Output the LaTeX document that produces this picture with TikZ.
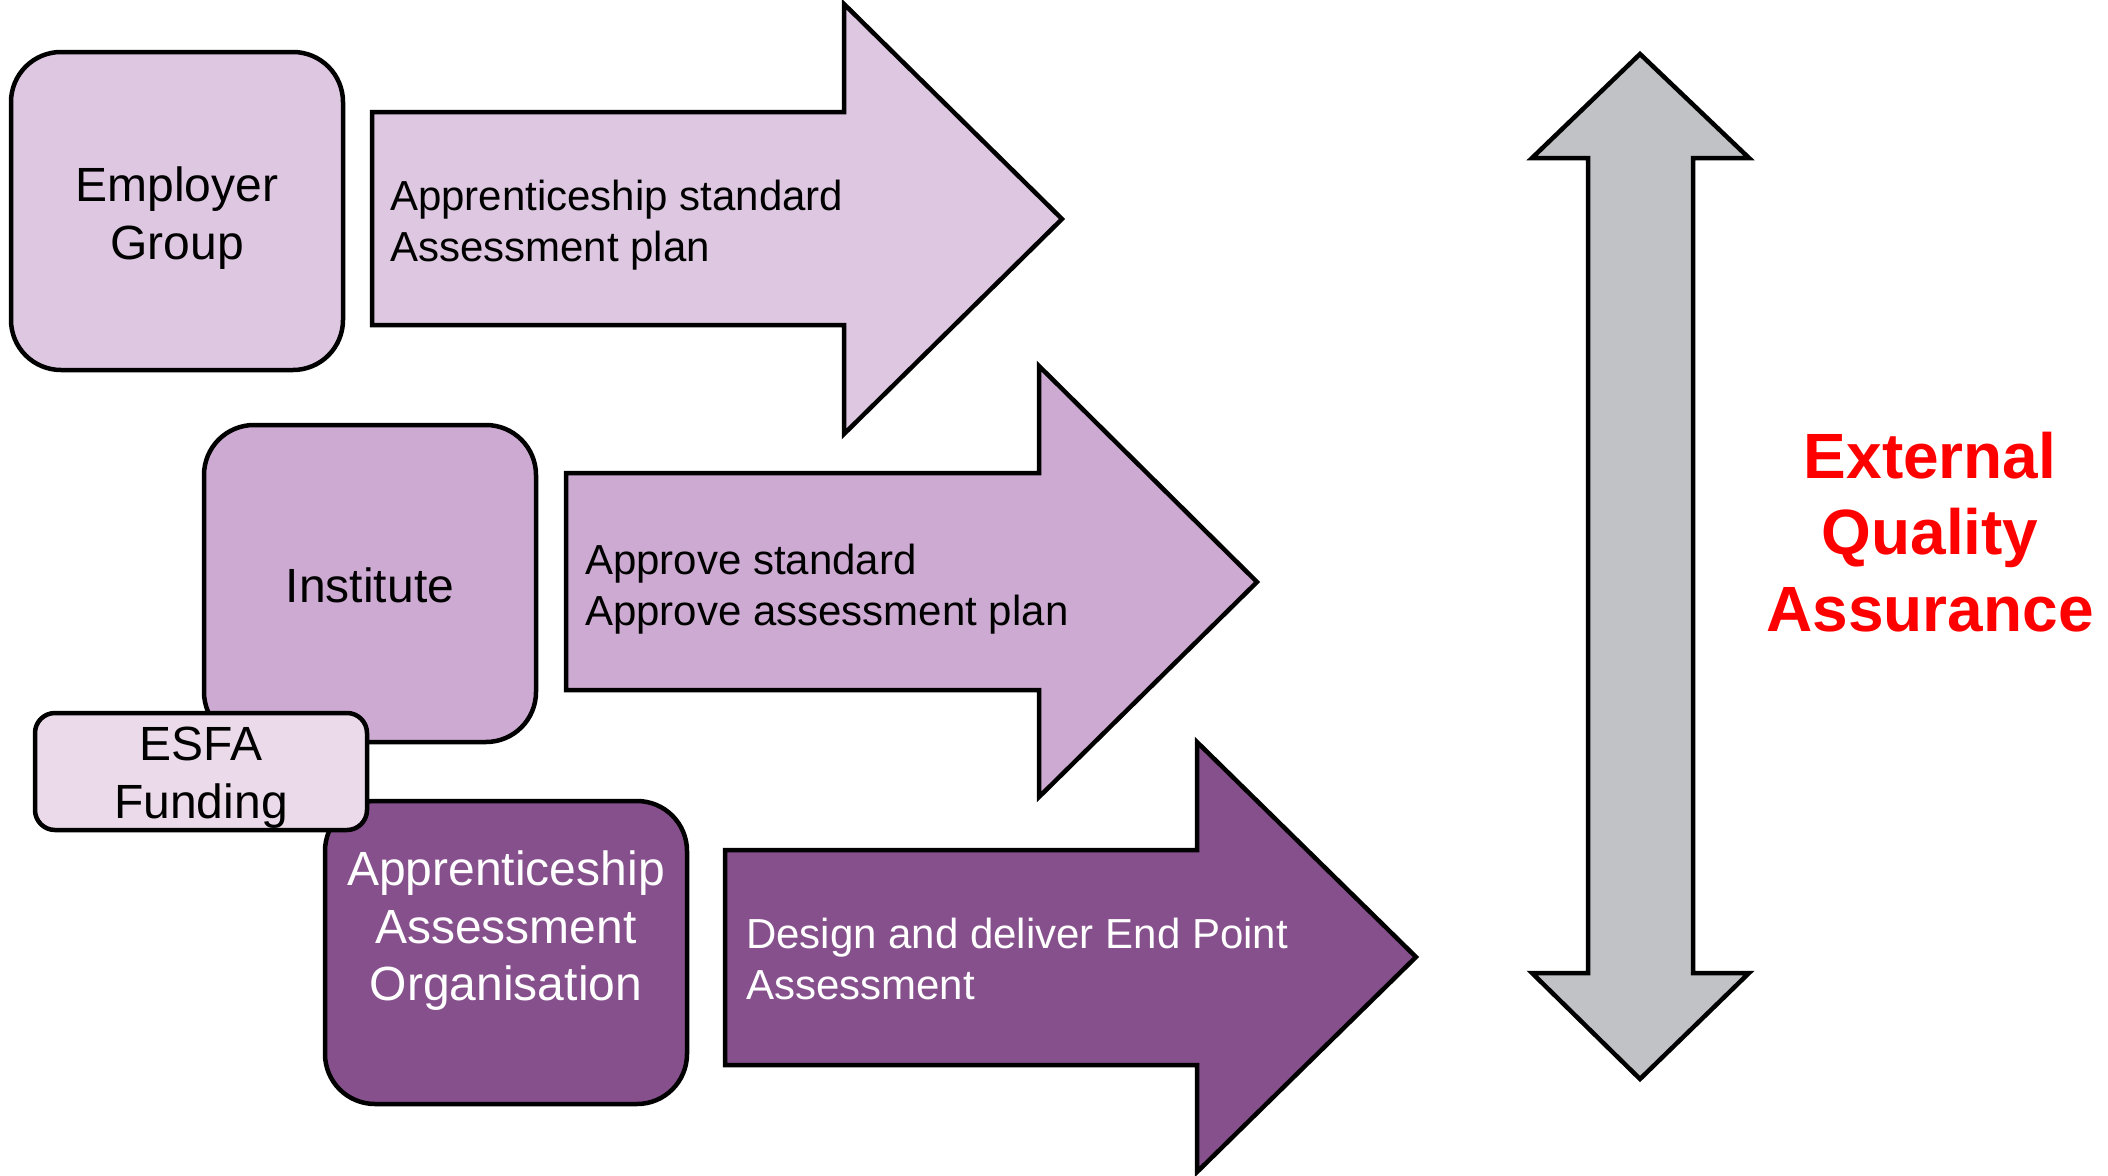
\documentclass[tikz,border=0pt]{standalone}
\usepackage{fontspec}
\setmainfont{Liberation Sans}
\definecolor{lilacA}{RGB}{221,199,225}
\definecolor{lilacB}{RGB}{205,170,209}
\definecolor{lilacC}{RGB}{235,218,234}
\definecolor{plum}{RGB}{134,80,140}
\definecolor{greyarrow}{RGB}{193,194,198}
\definecolor{eqared}{RGB}{255,0,0}
\tikzset{
  box/.style={draw=black, line width=4.5pt, rounded corners=50pt, inner sep=0pt},
  smallbox/.style={box, rounded corners=20pt},
  boxtext/.style={inner sep=0pt, align=center, font=\fontsize{48}{57.6}\selectfont},
  bigarrow/.style={draw=black, line width=4.5pt, line join=miter},
  arrowtext/.style={anchor=west, inner sep=0pt, align=left, font=\fontsize{42}{51}\selectfont},
  eqa/.style={align=center, inner sep=0pt, text=eqared, font=\fontsize{64}{76.5}\selectfont\bfseries}
}
\begin{document}
\begin{tikzpicture}[x=1pt, y=-1pt]
\useasboundingbox (0,0) rectangle (2108,1175);
% Employer group
\node[box, fill=lilacA, minimum width=332pt, minimum height=318pt] (emp) at (177,211) {};
\node[boxtext] (emptext) at (177,218) {Employer\\Group};
\draw[bigarrow, fill=lilacA] (372,112) -- (844,112) -- (844,4) -- (1062,219) -- (844,434) -- (844,325) -- (372,325) -- cycle;
\node[arrowtext] (t1) at (390,225) {Apprenticeship standard\\Assessment plan};
% Institute
\node[box, fill=lilacB, minimum width=332pt, minimum height=317pt] (inst) at (370,583.5) {};
\node[boxtext] (insttext) at (370,585) {Institute};
\draw[bigarrow, fill=lilacB] (566,473) -- (1039,473) -- (1039,366) -- (1257,582) -- (1039,797) -- (1039,690) -- (566,690) -- cycle;
\node[arrowtext] (t2) at (585,589) {Approve standard\\Approve assessment plan};
% AAO
\node[box, fill=plum, minimum width=362pt, minimum height=303pt] (aao) at (506,952.5) {};
\node[boxtext, text=white, font=\fontsize{48}{57.5}\selectfont] (aaotext) at (506,931) {Apprenticeship\\Assessment\\Organisation};
% ESFA
\node[smallbox, fill=lilacC, minimum width=332pt, minimum height=117pt] (esfa) at (201,771.5) {};
\node[boxtext] (esfatext) at (201,778) {ESFA\\Funding};
% Arrow 3
\draw[bigarrow, fill=plum] (725,850) -- (1197,850) -- (1197,742) -- (1416,957) -- (1197,1172) -- (1197,1065) -- (725,1065) -- cycle;
\node[arrowtext, text=white] (t3) at (746,959) {Design and deliver End Point\\Assessment};
% Double arrow
\draw[bigarrow, fill=greyarrow] (1640,54) -- (1749,158) -- (1693,158) -- (1693,973) -- (1749,973) -- (1640,1079) -- (1532,973) -- (1588,973) -- (1588,158) -- (1532,158) -- cycle;
\node[eqa] (eqa) at (1930,532) {External\\Quality\\Assurance};
\end{tikzpicture}
\end{document}
